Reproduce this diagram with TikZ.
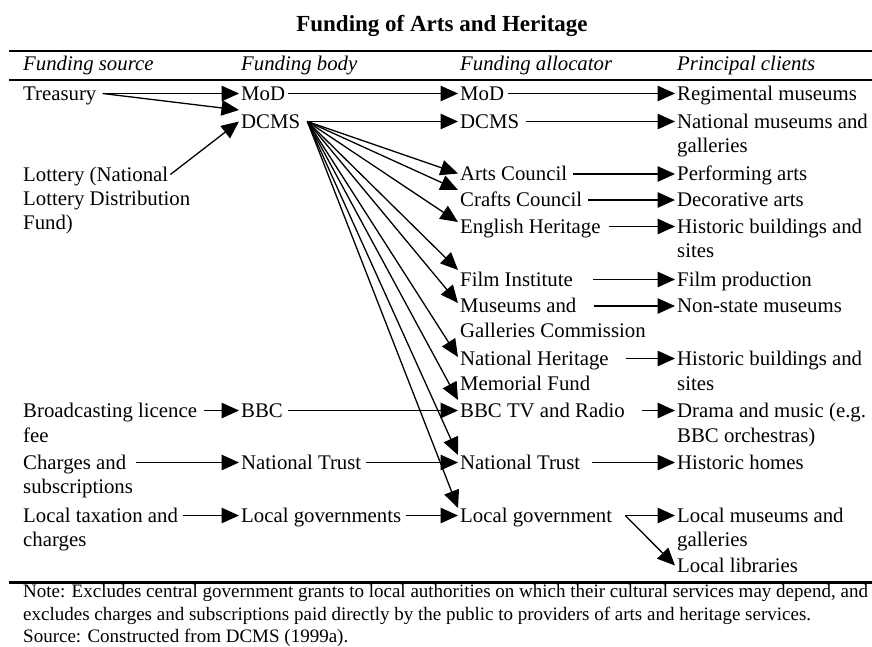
\documentclass[tikz,border=0pt]{standalone}
\usepackage{fontspec}
\setmainfont{Liberation Serif}
\usetikzlibrary{arrows.meta}
\begin{document}
\begin{tikzpicture}[x=1pt,y=-1pt,
  txt/.style={anchor=base west, inner xsep=2pt, inner ysep=0pt, text height=13pt, text depth=0pt, font=\fontsize{20.8pt}{24.5pt}\selectfont},
  hdr/.style={anchor=base west, inner xsep=2pt, inner ysep=0pt, font=\fontsize{20.8pt}{24.5pt}\selectfont\itshape},
  notetxt/.style={anchor=base west, inner xsep=2pt, inner ysep=0pt, font=\fontsize{19pt}{23pt}\selectfont},
  conn/.style={line width=1.3pt, -{Triangle[length=17.5pt,width=15.5pt]}},
  rulebar/.style={line width=2.5pt}]
\useasboundingbox (0,0) rectangle (872,646);

% title and rules
\node[anchor=base, inner sep=0pt, font=\fontsize{23pt}{27pt}\selectfont\bfseries] (title) at (442,31) {Funding of Arts and Heritage};
\draw[rulebar] (9,51) -- (872,51);
\draw[line width=2.2pt] (9,80) -- (872,80);
\draw[rulebar] (9,582.5) -- (872,582.5);

% headers
\node[hdr] (h1) at (21,70) {Funding source};
\node[hdr] (h2) at (239,70) {Funding body};
\node[hdr] (h3) at (458,70) {Funding allocator};
\node[hdr] (h4) at (675,70) {Principal clients};

% funding sources
\node[txt] (tre) at (21,100) {Treasury};
\node[txt] (lot1) at (21,181) {Lottery (National};
\node[txt] (lot2) at (21,205) {Lottery Distribution};
\node[txt] (lot3) at (21,229) {Fund)};
\node[txt] (bro1) at (21,417) {Broadcasting licence};
\node[txt] (bro2) at (21,442) {fee};
\node[txt] (cha1) at (21,469) {Charges and};
\node[txt] (cha2) at (21,493) {subscriptions};
\node[txt] (loc1) at (21,522) {Local taxation and};
\node[txt] (loc2) at (21,546) {charges};

% funding bodies
\node[txt] (bmod) at (239,100) {MoD};
\node[txt] (bdcms) at (239,128) {DCMS};
\node[txt] (bbbc) at (239,417) {BBC};
\node[txt] (bnt) at (239,469) {National Trust};
\node[txt] (blg) at (239,522) {Local governments};

% funding allocators
\node[txt] (amod) at (458,100) {MoD};
\node[txt] (adcms) at (458,128) {DCMS};
\node[txt] (aac) at (458,180.5) {Arts Council};
\node[txt] (acc) at (458,206.5) {Crafts Council};
\node[txt] (aeh) at (458,233) {English Heritage};
\node[txt] (afi) at (458,286) {Film Institute};
\node[txt] (amg1) at (458,312.5) {Museums and};
\node[txt] (amg2) at (458,337.5) {Galleries Commission};
\node[txt] (anh1) at (458,365) {National Heritage};
\node[txt] (anh2) at (458,390) {Memorial Fund};
\node[txt] (abbc) at (458,417) {BBC TV and Radio};
\node[txt] (ant) at (458,469) {National Trust};
\node[txt] (alg) at (458,522) {Local government};

% principal clients
\node[txt] (crm) at (675,100) {Regimental museums};
\node[txt] (cnm1) at (675,128) {National museums and};
\node[txt] (cnm2) at (675,152) {galleries};
\node[txt] (cpa) at (675,180.5) {Performing arts};
\node[txt] (cda) at (675,206.5) {Decorative arts};
\node[txt] (chb1) at (675,233) {Historic buildings and};
\node[txt] (chb2) at (675,257) {sites};
\node[txt] (cfp) at (675,286) {Film production};
\node[txt] (cns) at (675,312.5) {Non-state museums};
\node[txt] (chh1) at (675,365) {Historic buildings and};
\node[txt] (chh2) at (675,390) {sites};
\node[txt] (cdm1) at (675,417) {Drama and music (e.g.};
\node[txt] (cdm2) at (675,442) {BBC orchestras)};
\node[txt] (cho) at (675,469) {Historic homes};
\node[txt] (clm1) at (675,522) {Local museums and};
\node[txt] (clm2) at (675,546) {galleries};
\node[txt] (cll) at (675,572) {Local libraries};

% note
\node[notetxt] (n1) at (21,597) {Note: Excludes central government grants to local authorities on which their cultural services may depend, and};
\node[notetxt] (n2) at (21,620) {excludes charges and subscriptions paid directly by the public to providers of arts and heritage services.};
\node[notetxt] (n3) at (21,642.5) {Source: Constructed from DCMS (1999a).};

% sources -> bodies
\draw[conn] ([xshift=4pt]tre.east) -- (bmod.west);
\draw[conn] ([xshift=4pt]tre.east) -- ([yshift=11.5pt]bdcms.west);
\draw[conn] (lot1.east) -- (bdcms.west);
\draw[conn] ([xshift=5pt]bro1.east) -- (bbbc.west);
\draw[conn] ([xshift=8pt]cha1.east) -- (bnt.west);
\draw[conn] ([xshift=3pt]loc1.east) -- (blg.west);

% bodies -> allocators
\draw[conn] ([xshift=1pt]bmod.east) -- (amod.west);
\coordinate (fan) at ([xshift=5pt]bdcms.east);
\draw[conn] (fan) -- (adcms.west);
\draw[conn] (fan) -- ([yshift=0.5pt]aac.west);
\draw[conn] (fan) -- ([yshift=10pt]acc.west);
\draw[conn] (fan) -- ([yshift=4.5pt]aeh.west);
\draw[conn] (fan) -- ([yshift=9.5pt]afi.west);
\draw[conn] (fan) -- ([yshift=3pt]amg1.west);
\draw[conn] (fan) -- ([yshift=1.5pt]anh1.west);
\draw[conn] (fan) -- ([yshift=10.5pt]abbc.west);
\draw[conn] (fan) -- ([yshift=7.5pt]ant.west);
\draw[conn] (fan) -- ([yshift=7.5pt]alg.west);
\draw[conn] ([xshift=3pt]bbbc.east) -- (abbc.west);
\draw[conn] ([xshift=3pt]bnt.east) -- (ant.west);
\draw[conn] ([xshift=3pt]blg.east) -- (alg.west);

% allocators -> clients
\draw[conn] ([xshift=2pt]amod.east) -- (crm.west);
\draw[conn] ([xshift=5pt]adcms.east) -- (cnm1.west);
\draw[conn] ([xshift=4pt]aac.east) -- (cpa.west);
\draw[conn] ([xshift=4pt]acc.east) -- (cda.west);
\draw[conn] ([xshift=6pt]aeh.east) -- (chb1.west);
\draw[conn] ([xshift=18pt]afi.east) -- (cfp.west);
\draw[conn] ([xshift=15pt]amg1.east) -- (cns.west);
\draw[conn] ([xshift=15pt]anh1.east) -- (chh1.west);
\draw[conn] ([xshift=15pt]abbc.east) -- (cdm1.west);
\draw[conn] ([xshift=10pt]ant.east) -- (cho.west);
\coordinate (lgout) at ([xshift=11pt]alg.east);
\draw[conn] (lgout) -- (clm1.west);
\draw[conn] (lgout) -- (cll.west);
\end{tikzpicture}
\end{document}
